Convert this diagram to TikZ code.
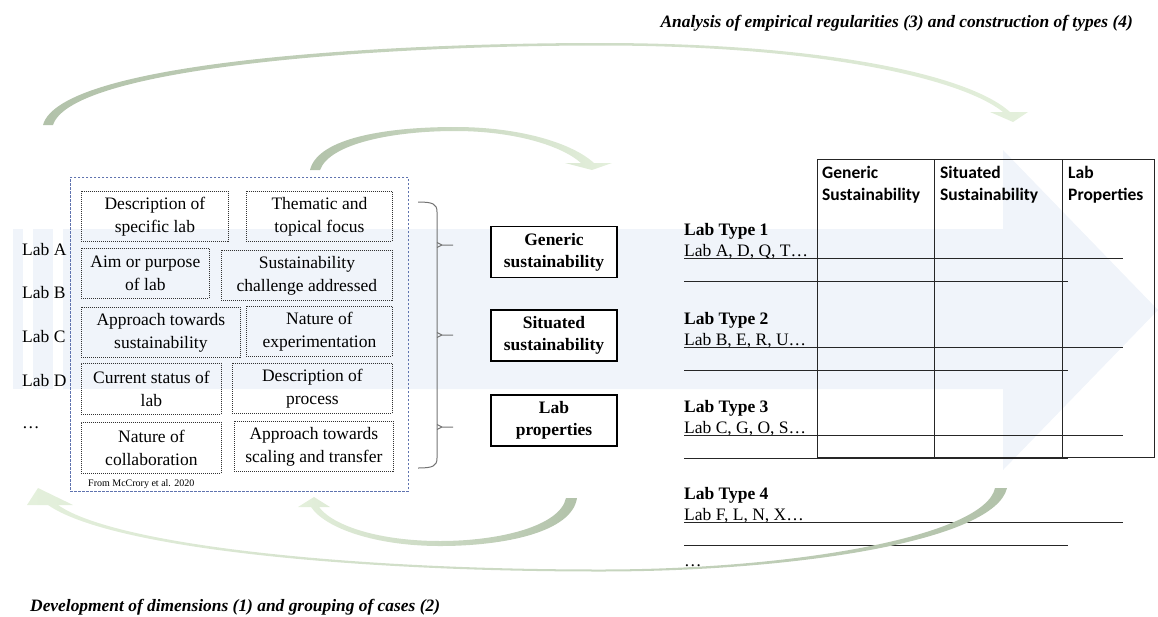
\documentclass[tikz,border=0pt]{standalone}
\usepackage{fontspec}
\setmainfont{Liberation Serif}
\newfontfamily\headfont{Carlito}
\usetikzlibrary{
    positioning
}
\definecolor{arrowbg}{RGB}{240,244,250}
\definecolor{arcdark}{RGB}{178,194,170}
\definecolor{arclight}{RGB}{228,240,220}
\definecolor{frameblue}{RGB}{95,115,175}
\tikzset{
    % Background shapes
    big arrow/.style={fill=arrowbg},
    top arc/.style={left color=arcdark, right color=arclight},
    bottom arc/.style={left color=arclight, right color=arcdark},
    long top arc/.style={left color=arcdark, middle color=arclight!85!arcdark, right color=arclight},
    long bottom arc/.style={left color=arclight, middle color=arclight!90!arcdark, right color=arcdark},
    %
    % Boxes
    frame box/.style={draw=frameblue, line width=0.7pt, dash pattern=on 2.5pt off 1.5pt, inner sep=0pt},
    dim box/.style={draw=black!80, line width=0.8pt, dash pattern=on 1pt off 1pt, align=center, inner sep=0pt, font=\fontsize{17.5}{23}\selectfont},
    group box/.style={draw, line width=1.3pt, fill=white, align=center, minimum width=126pt, minimum height=51pt, inner sep=0pt, font=\fontsize{17.5}{22}\selectfont\bfseries},
    %
    % Texts
    lab label/.style={anchor=base west, inner sep=0pt},
    type title/.style={anchor=base west, inner sep=0pt, font=\fontsize{17.5}{20}\selectfont\bfseries},
    type labs/.style={anchor=base west, inner sep=0pt},
    col head/.style={anchor=north west, align=left, inner sep=0pt, font=\headfont\fontsize{17.5}{22}\selectfont\bfseries},
    phase title/.style={inner sep=0pt, font=\fontsize{17.4}{20}\selectfont\bfseries\itshape},
    %
    % Lines
    rule/.style={line width=1pt, black!85},
    grid line/.style={line width=0.9pt, black!85},
    brace line/.style={line width=1pt, black!55}
}
\tikzstyle{every node}=[font=\fontsize{17.5}{20}\selectfont]

\begin{document}
\begin{tikzpicture}[x=1pt, y=-1pt]
    \useasboundingbox (0,0) rectangle (1158,616);
    % striped arrow in the back
    \fill[big arrow] (13,229) rectangle (23,389);
    \fill[big arrow] (33,229) rectangle (53,389);
    \fill[big arrow] (63,229) -- (1003,229) -- (1003,150) -- (1158,310) -- (1003,470) -- (1003,389) -- (63,389) -- cycle;

    % the cases
    \foreach \lab/\yy in {A/255, B/298, C/342, D/386}
        \node[lab label] (lab\lab) at (22,\yy) {Lab \lab};
    \node[lab label] (labmore) at (22,428) {…};

    % dimensions
    \node[frame box, anchor=north west, minimum width=338pt, minimum height=314pt] (dims) at (70,177) {};
    \foreach \nm/\xx/\yy/\ww/\hh/\txt in {
        desc/81/191/147/50/{Description of\\specific lab},
        theme/246/191/146/50/{Thematic and\\topical focus},
        aim/81/248/128/50/{Aim or purpose\\of lab},
        challenge/221/250/171/50/{Sustainability\\challenge addressed},
        approach/81/307/159/50/{Approach towards\\sustainability},
        experiment/246/306/146/50/{Nature of\\experimentation},
        status/81/363/140/51/{Current status of\\lab},
        process/232/363/160/50/{Description of\\process},
        collab/81/422/140/51/{Nature of\\collaboration},
        scaling/234/421/159/50/{Approach towards\\scaling and transfer}}
        \node[dim box, anchor=north west, minimum width=\ww pt, minimum height=\hh pt] (\nm) at (\xx,\yy) {\txt};
    \node[anchor=base west, inner sep=0pt, font=\fontsize{10}{12}\selectfont] (source) at (88,486) {From McCrory et al. 2020};

    % brace
    \draw[brace line] (418,202) .. controls (433,202) and (437,204) .. (437,212) -- (437,458) .. controls (437,466) and (433,468) .. (418,468);
    \foreach \yy in {245,335,427}
        \draw[brace line] (437,\yy-2.5) -- (442,\yy) -- (437,\yy+2.5) (442,\yy) -- (453,\yy);

    % grouped dimensions
    \node[group box] (generic) at (554,252) {Generic\\sustainability};
    \node[group box] (situated) at (554,335.5) {Situated\\sustainability};
    \node[group box] (labprops) at (554,420.5) {Lab\\properties};

    % lab types
    \foreach \k/\yy/\labs in {1/229/{A, D, Q, T}, 2/318/{B, E, R, U}, 3/406/{C, G, O, S}, 4/493/{F, L, N, X}} {
        \node[type title] (type\k) at (684,\yy+6) {Lab Type \k};
        \node[type labs] (labs\k) at (684,\yy+27) {Lab \labs…};
        \draw[rule] (684,\yy+29) -- (1123,\yy+29);
        \draw[rule] (684,\yy+52) -- (1068,\yy+52);
    }
    \node[type labs] (typemore) at (684,566) {…};

    % table
    \draw[grid line] (817,159) rectangle (1154,457);
    \draw[grid line] (934,159) -- (934,457);
    \draw[grid line] (1062,159) -- (1062,457);
    \node[col head] (headgen) at (822,166) {Generic\\Sustainability};
    \node[col head] (headsit) at (940,166) {Situated\\Sustainability};
    \node[col head] (headprop) at (1068,166) {Lab\\Properties};

    % phases
    \node[phase title, anchor=base east] (analysis) at (1133,27) {Analysis of empirical regularities (3) and construction of types (4)};
    \node[phase title, anchor=base west] (development) at (30,611) {Development of dimensions (1) and grouping of cases (2)};

    % curved arrows
    \path[long top arc] (43,125) .. controls (60,62) and (380,43) .. (600,43) .. controls (820,43) and (968,74) .. (1010,112) -- (1028,112) -- (1013,122) -- (990,112) -- (1003,112) .. controls (962,79) and (820,45.5) .. (600,45.5) .. controls (390,45.5) and (72,66) .. (53,125) -- cycle;
    \path[top arc] (310,170) .. controls (318,137) and (390,127) .. (455,127) .. controls (520,127) and (572,143) .. (594,163) -- (612,163) -- (592,170) -- (565,163) -- (581,163) .. controls (562,146) and (515,131) .. (455,131) .. controls (395,131) and (330,143) .. (320,170) -- cycle;
    \path[long bottom arc] (1007,488) .. controls (995,540) and (800,571.5) .. (600,571.5) .. controls (350,571.5) and (110,548) .. (48,505) -- (27,505) -- (38,488) -- (73,505) -- (58,505) .. controls (115,545) and (350,569.5) .. (600,569.5) .. controls (800,569.5) and (985,535) .. (995,488) -- cycle;
    \path[bottom arc] (577,498) .. controls (572,532) and (505,546) .. (440,546) .. controls (375,546) and (325,528) .. (311,507) -- (298,507) -- (314,497) -- (330,507) -- (319,507) .. controls (333,526) and (380,541) .. (440,541) .. controls (500,541) and (560,526) .. (566,498) -- cycle;
\end{tikzpicture}
\end{document}
